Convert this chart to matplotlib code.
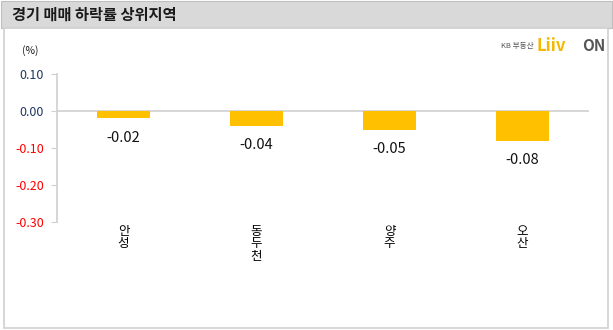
import matplotlib
matplotlib.use("Agg")
import matplotlib.pyplot as plt
from matplotlib.patches import Rectangle

plt.rcParams['font.family'] = ['Noto Sans CJK KR', 'DejaVu Sans']

title = "경기 매매 하락률 상위지역"
categories = ["안성", "동두천", "양주", "오산"]
values = [-0.02, -0.04, -0.05, -0.08]
yticks = [0.10, 0.00, -0.10, -0.20, -0.30]
ytick_labels = ["0.10", "0.00", "-0.10", "-0.20", "-0.30"]

W, H = 613, 330
fig = plt.figure(figsize=(W / 100, H / 100), dpi=100)
fig.patch.set_facecolor("white")

def fx(px): return px / W
def fy(py): return 1 - py / H

# title bar
fig.patches.append(Rectangle((fx(1), fy(28)), fx(611), 27 / H, transform=fig.transFigure,
                             facecolor="#d9d9d9", edgecolor="#bfbfbf", lw=0.8, zorder=-5))
# panel border
fig.patches.append(Rectangle((fx(4), fy(328)), fx(604), 300 / H, transform=fig.transFigure,
                             facecolor="white", edgecolor="#d0d0d0", lw=1.2, zorder=-5))
fig.text(fx(12), fy(15), title, fontsize=11, fontweight="bold", color="#1a1a1a",
         va="center", ha="left")

# logo
fig.text(fx(534), fy(46), "KB 부동산", fontsize=5.5, color="#555555", va="center", ha="right")
fig.text(fx(536), fy(46), "Liiv", fontsize=12, fontweight="bold", color="#f5b800", va="center", ha="left")
fig.text(fx(582), fy(46), "ON", fontsize=11, fontweight="bold", color="#555555", va="center", ha="left")

ax = fig.add_axes([fx(57), fy(222), fx(589 - 57), (222 - 74) / H], zorder=5)
ax.set_facecolor("none")
x = list(range(len(categories)))
ax.bar(x, values, width=0.4, color="#ffc000", zorder=2)
ax.set_xlim(-0.5, len(categories) - 0.5)
ax.set_ylim(-0.30, 0.10)
ax.axhline(0, color="#d0d0d0", lw=1.2, zorder=1)

for s in ["top", "right", "bottom"]:
    ax.spines[s].set_visible(False)
ax.spines["left"].set_color("#d0d0d0")
ax.spines["left"].set_linewidth(1.2)

ax.set_yticks(yticks)
ax.set_yticklabels(ytick_labels, fontsize=9)
for t, v in zip(ax.get_yticklabels(), yticks):
    t.set_color("#ff0000" if v < 0 else "#1f3864")
ax.tick_params(axis="y", length=4, color="#d0d0d0", pad=5.5)

ax.set_xticks(x)
ax.set_xticklabels(["\n".join(c) for c in categories], fontsize=9, linespacing=0.95,
                   va="top")
ax.tick_params(axis="x", length=0, pad=2)

for xi, v in zip(x, values):
    ax.annotate(f"{v:.2f}", (xi, v), xytext=(0, -9), textcoords="offset points",
                ha="center", va="top", fontsize=10.5, color="#111111")

fig.text(fx(22), fy(51), "(%)", fontsize=7.5, color="#1a1a1a", va="center", ha="left")

fig.savefig("out.png", dpi=100)
